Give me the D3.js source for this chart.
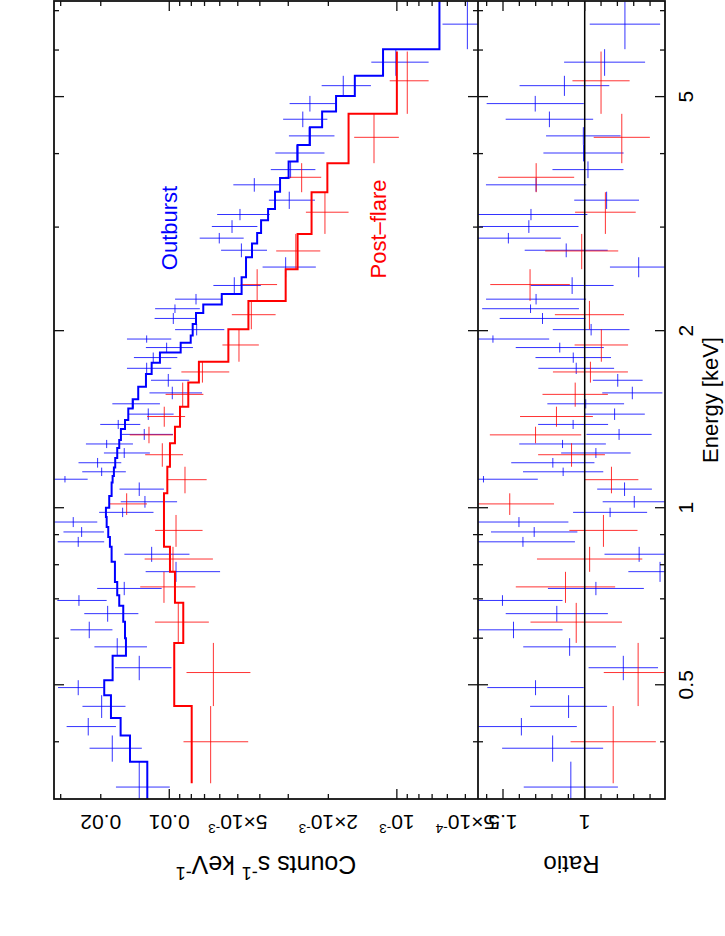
<!DOCTYPE html>
<html>
<head>
<meta charset="utf-8">
<script src="https://cdn.jsdelivr.net/npm/d3@7"></script>
<style>
  body { margin: 0; background: #fff; }
  svg { display: block; }
  text { font-family: "Liberation Sans", Arial, Helvetica, sans-serif; }
</style>
</head>
<body>
<svg id="chart" width="725" height="936"></svg>
<script>
// Outburst spectrum (blue): bin edges [keV], counts s^-1 keV^-1 (x1e-3), 1-sigma errors, folded model
const blueEdges = [0.30, 0.370, 0.410, 0.439, 0.480, 0.509, 0.560, 0.600, 0.640, 0.681,
  0.710, 0.748, 0.809, 0.858, 0.892, 0.927, 0.964, 1.000, 1.047, 1.104,
  1.132, 1.170, 1.215, 1.263, 1.304, 1.361, 1.410, 1.475, 1.529, 1.606,
  1.688, 1.764, 1.836, 1.908, 1.963, 2.053, 2.143, 2.216, 2.309, 2.465,
  2.666, 2.814, 2.932, 3.082, 3.221, 3.446, 3.634, 3.880, 4.139, 4.436,
  4.716, 5.014, 5.424, 6.020, 7.26];
const blueCounts = [13.55, 17.80, 22.70, 19.82, 25.12, 13.55, 16.93, 22.47, 18.65, 24.94,
  15.77, 9.34, 11.95, 25.12, 24.27, 26.42, 16.03, 12.79, 13.55, 28.73,
  19.82, 20.65, 15.77, 18.84, 12.88, 16.76, 12.37, 14.39, 9.70, 10.10,
  12.57, 11.76, 10.27, 12.57, 7.58, 9.60, 9.44, 7.63, 5.18, 3.08,
  4.82, 6.03, 5.30, 4.89, 2.97, 4.23, 2.93, 2.75, 2.43, 2.59,
  2.41, 1.72, 1.01, 0.49];
const blueErr = [3.6, 4.6, 5.55, 4.25, 5.7, 3.77, 4.4, 4.7, 4.98, 6.1,
  4.97, 3.36, 3.8, 5.8, 4.9, 5.7, 4.3, 3.55, 3.0, 5.9,
  4.3, 4.4, 3.6, 4.4, 3.25, 3.35, 2.8, 3.4, 2.52, 1.93,
  2.77, 2.54, 2.4, 2.77, 1.85, 2.0, 2.1, 1.8, 1.22, 0.81,
  1.1, 1.32, 1.2, 1.27, 0.68, 1.0, 0.65, 0.67, 0.55, 0.57,
  0.55, 0.42, 0.285, 0.14];
const blueModel = [12.49, 14.88, 16.36, 18.04, 19.31, 17.74, 15.50, 15.65, 15.93, 16.59,
  16.93, 17.33, 17.92, 18.23, 18.54, 18.84, 18.98, 18.36, 17.92, 17.74,
  17.51, 17.28, 16.93, 16.59, 16.31, 15.65, 15.14, 14.48, 13.69, 12.66,
  11.95, 10.99, 8.91, 8.05, 7.89, 7.63, 7.09, 5.88, 4.81, 4.60,
  4.33, 4.11, 3.95, 3.68, 3.43, 3.26, 2.99, 2.73, 2.41, 2.13,
  1.85, 1.53, 1.15, 0.65];

// Post-flare spectrum (red)
const redEdges = [0.340, 0.460, 0.589, 0.689, 0.778, 0.858, 0.972, 1.058, 1.174, 1.287,
  1.373, 1.485, 1.632, 1.771, 2.011, 2.247, 2.544, 2.921, 3.439, 3.853, 4.674, 5.965];
const redCounts = [6.58, 6.40, 9.13, 10.55, 9.63, 9.34, 15.39, 8.53, 10.73, 12.28,
  10.52, 8.73, 7.15, 4.94, 4.36, 4.11, 2.78, 2.07, 2.62, 1.26, 0.90];
const redErr = [2.08, 2.0, 2.43, 2.87, 3.2, 2.2, 2.86, 1.68, 2.03, 2.64,
  2.0, 1.65, 1.7, 0.9, 0.95, 0.75, 0.61, 0.44, 0.47, 0.28, 0.175];
const redModel = [7.97, 9.51, 8.68, 9.44, 9.93, 10.55, 10.55, 10.20, 9.93, 9.44,
  8.97, 8.25, 7.41, 5.50, 4.49, 3.08, 2.73, 2.37, 2.02, 1.63, 1.00];

// axis ticks and labels
const energyMajor = [0.5, 1, 2, 5];
const energyMinor = [0.4, 0.6, 0.7, 0.8, 0.9, 3, 4, 6, 7];
const countMajor = [1e-3, 1e-2];
const countMinor = [5e-4, 6e-4, 7e-4, 8e-4, 9e-4, 2e-3, 3e-3, 4e-3, 5e-3, 6e-3, 7e-3, 8e-3, 9e-3, 2e-2, 3e-2];
const countLabels = [
  { v: 5e-4, base: "5\u00d710", sup: "-4" },
  { v: 1e-3, base: "10", sup: "-3" },
  { v: 2e-3, base: "2\u00d710", sup: "-3" },
  { v: 5e-3, base: "5\u00d710", sup: "-3" },
  { v: 1e-2, base: "0.01" },
  { v: 2e-2, base: "0.02" }
];
const ratioMajor = [1, 1.5];
const ratioMinor = [0.6, 0.7, 0.8, 0.9, 1.1, 1.2, 1.3, 1.4, 1.6];

function makeBins(edges, counts, errs, model) {
  return counts.map((c, i) => ({
    lo: edges[i], hi: edges[i + 1], c: c * 1e-3, e: errs[i] * 1e-3, m: model[i] * 1e-3
  }));
}
const blue = makeBins(blueEdges, blueCounts, blueErr, blueModel);
const red = makeBins(redEdges, redCounts, redErr, redModel);

// the plot is laid out landscape and then turned a quarter turn onto the page
const svg = d3.select("#chart");
const g = svg.append("g").attr("transform", "translate(0,936) rotate(-90)");

const pLeft = 137, pRight = 935, pTop = 54, pMid = 478, pBottom = 665;
const x = d3.scaleLog().domain([0.3197, 7.27]).range([pLeft, pRight]);
const yC = d3.scaleLog().domain([4.40e-4, 0.0321]).range([pMid, pTop]);
const yR = d3.scaleLinear().domain([0.5086, 1.653]).range([pBottom, pMid]);

const defs = svg.append("defs");
defs.append("clipPath").attr("id", "clipTop").append("rect")
  .attr("x", pLeft).attr("y", pTop).attr("width", pRight - pLeft).attr("height", pMid - pTop);
defs.append("clipPath").attr("id", "clipRatio").append("rect")
  .attr("x", pLeft).attr("y", pMid).attr("width", pRight - pLeft).attr("height", pBottom - pMid);

const topPanel = g.append("g").attr("clip-path", "url(#clipTop)");
const ratioPanel = g.append("g").attr("clip-path", "url(#clipRatio)");

function crosses(parent, data, color, yScale, val, err) {
  const c = parent.append("g").selectAll("g").data(data).enter().append("g")
    .attr("stroke", color).attr("stroke-width", 1).attr("stroke-opacity", 0.8);
  c.append("line")
    .attr("x1", d => x(d.lo)).attr("x2", d => x(d.hi))
    .attr("y1", d => yScale(val(d))).attr("y2", d => yScale(val(d)));
  c.append("line")
    .attr("x1", d => x((d.lo + d.hi) / 2)).attr("x2", d => x((d.lo + d.hi) / 2))
    .attr("y1", d => yScale(Math.max(val(d) - err(d), 1e-6)))
    .attr("y2", d => yScale(val(d) + err(d)));
}

function modelStep(parent, data, color) {
  const line = d3.line().x(p => x(p[0])).y(p => yC(p[1]));
  parent.append("path")
    .attr("d", line(data.flatMap(d => [[d.lo, d.m], [d.hi, d.m]])))
    .attr("fill", "none").attr("stroke", color).attr("stroke-width", 2);
}

crosses(topPanel, blue, "#0000ff", yC, d => d.c, d => d.e);
crosses(topPanel, red, "#ff0000", yC, d => d.c, d => d.e);
modelStep(topPanel, blue, "#0000ff");
modelStep(topPanel, red, "#ff0000");

crosses(ratioPanel, blue, "#0000ff", yR, d => d.c / d.m, d => d.e / d.m);
crosses(ratioPanel, red, "#ff0000", yR, d => d.c / d.m, d => d.e / d.m);
ratioPanel.append("line")
  .attr("x1", pLeft).attr("x2", pRight).attr("y1", yR(1)).attr("y2", yR(1))
  .attr("stroke", "#000").attr("stroke-width", 1.5);

// frame and ticks
const axes = g.append("g").attr("stroke", "#111").attr("fill", "none");
axes.append("rect").attr("x", pLeft).attr("y", pTop)
  .attr("width", pRight - pLeft).attr("height", pBottom - pTop).attr("stroke-width", 1.8);
axes.append("line").attr("x1", pLeft).attr("x2", pRight).attr("y1", pMid).attr("y2", pMid)
  .attr("stroke-width", 1.8);

function energyTicks(Y, dir) {
  [[energyMajor, 10], [energyMinor, 5]].forEach(([vals, len]) => {
    axes.selectAll(null).data(vals).enter().append("line")
      .attr("x1", d => x(d)).attr("x2", d => x(d))
      .attr("y1", Y).attr("y2", Y + dir * len).attr("stroke-width", 1.3);
  });
}
energyTicks(pTop, 1);
energyTicks(pMid, -1);
energyTicks(pMid, 1);
energyTicks(pBottom, -1);

function valueTicks(scale, major, minor) {
  [[pLeft, 1], [pRight, -1]].forEach(([X, dir]) => {
    [[major, 10], [minor, 5]].forEach(([vals, len]) => {
      axes.selectAll(null).data(vals).enter().append("line")
        .attr("x1", X).attr("x2", X + dir * len)
        .attr("y1", d => scale(d)).attr("y2", d => scale(d)).attr("stroke-width", 1.3);
    });
  });
}
valueTicks(yC, countMajor, countMinor);
valueTicks(yR, ratioMajor, ratioMinor);

// labels
const fs = 21;
g.selectAll(null).data(energyMajor).enter().append("text")
  .attr("x", d => x(d)).attr("y", 693).attr("text-anchor", "middle")
  .attr("font-size", fs).text(d => d);
g.append("text").attr("x", (pLeft + pRight) / 2).attr("y", 718).attr("text-anchor", "middle")
  .attr("font-size", 22).text("Energy [keV]");

function vertLabel(X, Y, parts, size, supScale = 0.65) {
  const t = g.append("text").attr("transform", `translate(${X},${Y}) rotate(-90)`)
    .attr("text-anchor", "middle").attr("font-size", size);
  let raised = false;
  parts.forEach(p => {
    const s = t.append("tspan").text(p.t);
    if (p.sup) { s.attr("font-size", size * supScale).attr("dy", -size * 0.42); raised = true; }
    else if (raised) { s.attr("dy", size * 0.42); raised = false; }
  });
  return t;
}
countLabels.forEach(l => {
  const parts = [{ t: l.base }];
  if (l.sup) parts.push({ t: l.sup, sup: true });
  vertLabel(121, yC(l.v), parts, fs);
});
ratioMajor.forEach(v => vertLabel(121, yR(v), [{ t: String(v) }], fs));

vertLabel(80, (pTop + pMid) / 2, [
  { t: "Counts s" }, { t: "-1", sup: true }, { t: " keV" }, { t: "-1", sup: true }
], 25, 0.72);
vertLabel(80, (pMid + pBottom) / 2, [{ t: "Ratio" }], 24);

g.append("text").attr("x", 708).attr("y", 177).attr("text-anchor", "middle")
  .attr("font-size", 22).attr("fill", "#0000ff").text("Outburst");
g.append("text").attr("x", 707).attr("y", 386).attr("text-anchor", "middle")
  .attr("font-size", 22).attr("fill", "#ff0000").text("Post\u2013flare");
</script>
</body>
</html>
